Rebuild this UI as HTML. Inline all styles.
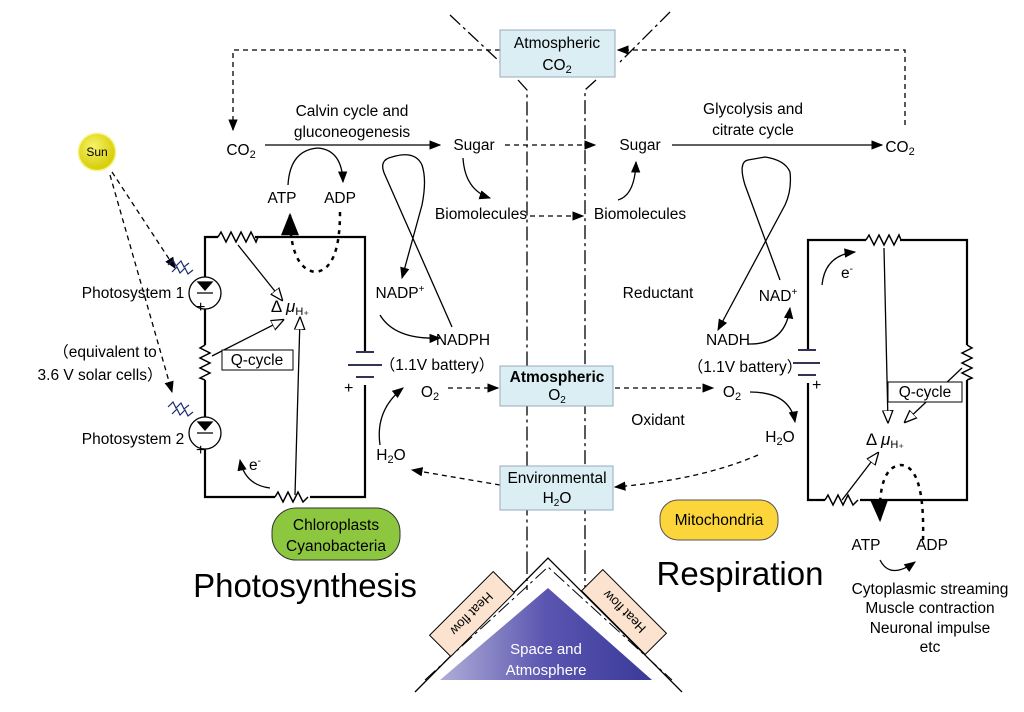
<!DOCTYPE html>
<html><head><meta charset="utf-8"><style>
body{margin:0;background:#fff;}
svg{display:block;font-family:"Liberation Sans",sans-serif;}
</style></head><body>
<svg width="1024" height="712" viewBox="0 0 1024 712" xmlns="http://www.w3.org/2000/svg">
<defs>
<marker id="a" viewBox="0 0 10 10" refX="9" refY="5" markerWidth="9" markerHeight="9" orient="auto"><path d="M0,1 L10,5 L0,9 z" fill="#000"/></marker>
<marker id="o" viewBox="0 0 10 10" refX="9" refY="5" markerWidth="10" markerHeight="10" orient="auto"><path d="M0,1 L10,5 L0,9 z" fill="#fff" stroke="#000"/></marker>
<radialGradient id="sun" cx="0.4" cy="0.35" r="0.7"><stop offset="0" stop-color="#f6f36a"/><stop offset="1" stop-color="#d4c800"/></radialGradient>
<linearGradient id="tri" x1="0" x2="1"><stop offset="0" stop-color="#b0aed8"/><stop offset="0.5" stop-color="#5a55b0"/><stop offset="1" stop-color="#3a3a9a"/></linearGradient>
</defs>
<g fill="none" stroke="#000" stroke-width="1.3">
<path d="M450,15 L500,62 M670,12 L620,62" stroke-dasharray="14,4,3,4"/>
<path d="M518,80 L527,90 L527,560 M596,80 L585,90 L585,560" stroke-dasharray="14,4,3,4"/>
<path d="M527,560 L527,590 M585,560 L585,590" stroke-dasharray="14,4,3,4"/>
<path d="M500,50 L233,50 L233,130" stroke-dasharray="5,4" marker-end="url(#a)"/>
<path d="M905,125 L905,50 L618,50" stroke-dasharray="5,4" marker-end="url(#a)"/>
<path d="M112,172 L175,268" stroke-dasharray="5,4" marker-end="url(#a)"/>
<path d="M110,175 L172,392" stroke-dasharray="5,4" marker-end="url(#a)"/>
<path d="M265,145 L440,145" marker-end="url(#a)"/>
<path d="M505,145 L595,145" stroke-dasharray="5,4" marker-end="url(#a)"/>
<path d="M672,145 L882,145" marker-end="url(#a)"/>
<path d="M530,216 L583,216" stroke-dasharray="5,4" marker-end="url(#a)"/>
<path d="M463,158 Q465,190 490,198" marker-end="url(#a)"/>
<path d="M618,200 Q635,195 636,162" marker-end="url(#a)"/>
<path d="M288,185 Q290,150 318,148 Q342,150 343,182" marker-end="url(#a)"/>
<path d="M340,212 Q340,270 315,272 Q290,268 290,215" stroke-dasharray="4,5" stroke-width="2.5" marker-end="url(#a)"/>
<path d="M218,237 L205,237 L205,277 M205,309 L205,345 M205,380 L205,417 M205,449 L205,497 L275,497 M310,497 L365,497 L365,385 M365,352 L365,237 L255,237" stroke-width="2.2"/>
<path d="M218,237 l3,-5 l5,10 l5,-10 l5,10 l5,-10 l5,10 l5,-10 l5,10 l2,-5" stroke-width="1.5"/>
<path d="M275,497 l3,-5 l5,10 l5,-10 l5,10 l5,-10 l5,10 l5,-5" stroke-width="1.5"/>
<path d="M205,345 l-5,3 l10,5 l-10,5 l10,5 l-10,5 l10,5 l-10,5 l5,2" stroke-width="1.5"/>
<circle cx="205" cy="293" r="16"/><circle cx="205" cy="433" r="16"/>
<path d="M198,422 L212,422 L205,430 z M197,433 L213,433" fill="#000"/>
<path d="M198,282 L212,282 L205,290 z M197,293 L213,293" fill="#000"/>
<path d="M356,352 L374,352 M348,365 L382,365 M356,377 L374,377" stroke="#335" stroke-width="2"/>
<path d="M238,245 L282,300" marker-end="url(#o)"/>
<path d="M212,356 L283,320" marker-end="url(#o)"/>
<path d="M295,495 L300,318" marker-end="url(#o)"/>
<path d="M270,488 Q245,485 240,460" marker-end="url(#a)"/>
<!-- NADP loop -->
<path d="M452,327 L385,175 Q378,160 392,157 Q415,150 422,165 Q427,180 422,205 L402,278" marker-end="url(#a)"/>
<path d="M380,315 Q395,340 440,338" marker-end="url(#a)"/>
<path d="M380,445 Q375,410 403,388" marker-end="url(#a)"/>
<path d="M448,388 L498,388" stroke-dasharray="5,4" marker-end="url(#a)"/>
<path d="M500,485 L412,470" stroke-dasharray="5,4" marker-end="url(#a)"/>
<path d="M615,388 L713,388" stroke-dasharray="5,4" marker-end="url(#a)"/>
<path d="M758,455 Q700,480 615,487" stroke-dasharray="5,4" marker-end="url(#a)"/>
<path d="M750,392 Q790,392 795,422" marker-end="url(#a)"/>
<!-- NAD loop -->
<path d="M780,280 L745,185 Q738,162 748,160 L765,157 Q785,160 790,172 Q792,190 785,205 L718,330" marker-end="url(#a)"/>
<path d="M748,344 Q785,345 790,308" marker-end="url(#a)"/>
<path d="M808,350 L808,240 L866,240 M900,240 L967,240 L967,345 M967,380 L967,500 L860,500 M825,500 L808,500 L808,383" stroke-width="2.2"/>
<path d="M866,240 l3,-5 l5,10 l5,-10 l5,10 l5,-10 l5,10 l5,-10 l2,5" stroke-width="1.5"/>
<path d="M825,500 l3,-5 l5,10 l5,-10 l5,10 l5,-10 l5,10 l5,-5" stroke-width="1.5"/>
<path d="M967,345 l5,3 l-10,5 l10,5 l-10,5 l10,5 l-10,5 l10,5 l-5,2" stroke-width="1.5"/>
<path d="M798,350 L816,350 M793,363 L820,363 M798,375 L816,375" stroke="#335" stroke-width="2"/>
<path d="M884,248 L888,422" marker-end="url(#o)"/>
<path d="M962,368 L905,422" marker-end="url(#o)"/>
<path d="M842,500 L878,453" marker-end="url(#o)"/>
<path d="M822,285 Q825,255 855,252" marker-end="url(#a)"/>
<path d="M923,540 Q925,465 900,465 Q878,468 880,520" stroke-dasharray="4,5" stroke-width="2.5" marker-end="url(#a)"/>
<path d="M880,560 Q890,580 915,562" marker-end="url(#a)"/>
</g>
<g fill="none" stroke="#1a2a6a" stroke-width="1.2">
<path d="M168,265 l5,-5 l3,6 l5,-5 l3,6 l5,-4 M172,272 l5,-5 l3,6 l5,-5 l3,6 l5,-4"/>
<path d="M168,407 l5,-5 l3,6 l5,-5 l3,6 l5,-4 M172,414 l5,-5 l3,6 l5,-5 l3,6 l5,-4"/>
</g>
<circle cx="97" cy="152" r="18" fill="url(#sun)" stroke="#e8e000" stroke-width="3" stroke-opacity="0.4"/>
<text x="97" y="156" font-size="12" text-anchor="middle">Sun</text>
<g stroke="#9ab" fill="#daeef3">
<rect x="500" y="30" width="115" height="47"/>
<rect x="500" y="366" width="113" height="40"/>
<rect x="500" y="466" width="113" height="44"/>
</g>
<rect x="222" y="350" width="71" height="20" fill="#fff" stroke="#000"/>
<rect x="888" y="382" width="74" height="20" fill="#fff" stroke="#000"/>
<rect x="272" y="508" width="128" height="52" rx="24" fill="#8dc63f" stroke="#333"/>
<rect x="660" y="500" width="118" height="40" rx="18" fill="#fcd53a" stroke="#555"/>
<path d="M440,680 L548,588 L652,680 z" fill="url(#tri)"/>
<path d="M415,692 L548,558 L682,692" fill="none" stroke="#000" stroke-width="1.3"/>
<path d="M425,680 L548,567 L672,680" fill="none" stroke="#000" stroke-width="1" stroke-dasharray="14,4,3,4"/>
<g transform="translate(472,614) rotate(-45)"><rect x="-45" y="-15" width="90" height="30" fill="#fbe3cf" stroke="#000"/><text x="0" y="5" font-size="13" text-anchor="middle" transform="rotate(180)">Heat flow</text></g>
<g transform="translate(624,612) rotate(45)"><rect x="-45" y="-15" width="90" height="30" fill="#fbe3cf" stroke="#000"/><text x="0" y="5" font-size="13" text-anchor="middle" transform="rotate(180)">Heat flow</text></g>
<g font-size="15" text-anchor="middle" fill="#fff"><text x="546" y="654">Space and</text><text x="546" y="675">Atmosphere</text></g>
<g font-size="15.5" text-anchor="middle">
<text x="557" y="48">Atmospheric</text><text x="557" y="70">CO<tspan font-size="11" dy="3">2</tspan></text>
<text x="557" y="382" font-weight="bold">Atmospheric</text><text x="557" y="400">O<tspan font-size="10" dy="3">2</tspan></text>
<text x="557" y="483">Environmental</text><text x="557" y="503">H<tspan font-size="10" dy="3">2</tspan><tspan dy="-3">O</tspan></text>
<text x="336" y="530">Chloroplasts</text><text x="336" y="551">Cyanobacteria</text>
<text x="719" y="525">Mitochondria</text>
<text x="352" y="116">Calvin cycle and</text><text x="352" y="137">gluconeogenesis</text>
<text x="753" y="114">Glycolysis and</text><text x="753" y="135">citrate cycle</text>
<text x="241" y="155">CO<tspan font-size="11" dy="3">2</tspan></text>
<text x="900" y="152">CO<tspan font-size="11" dy="3">2</tspan></text>
<text x="474" y="150">Sugar</text><text x="640" y="150">Sugar</text>
<text x="481" y="219">Biomolecules</text><text x="640" y="219">Biomolecules</text>
<text x="282" y="203">ATP</text><text x="340" y="203">ADP</text>
<text x="866" y="550">ATP</text><text x="932" y="550">ADP</text>
<text x="400" y="298">NADP<tspan font-size="10" dy="-6">+</tspan></text>
<text x="463" y="345">NADPH</text>
<text x="437" y="370">（1.1V battery）</text>
<text x="430" y="397">O<tspan font-size="11" dy="3">2</tspan></text>
<text x="391" y="460">H<tspan font-size="11" dy="3">2</tspan><tspan dy="-3">O</tspan></text>
<text x="658" y="298">Reductant</text><text x="658" y="425">Oxidant</text>
<text x="728" y="345">NADH</text>
<text x="778" y="301">NAD<tspan font-size="10" dy="-6">+</tspan></text>
<text x="745" y="372">（1.1V battery）</text>
<text x="732" y="397">O<tspan font-size="11" dy="3">2</tspan></text>
<text x="780" y="442">H<tspan font-size="11" dy="3">2</tspan><tspan dy="-3">O</tspan></text>
<text x="257" y="365">Q-cycle</text><text x="925" y="397">Q-cycle</text>
<text x="930" y="594">Cytoplasmic streaming</text><text x="930" y="613">Muscle contraction</text>
<text x="930" y="633">Neuronal impulse</text><text x="930" y="652">etc</text>
<text x="290" y="312" font-size="17">Δ <tspan font-style="italic">μ</tspan><tspan font-size="11" dy="3">H₊</tspan></text>
<text x="885" y="445" font-size="17">Δ <tspan font-style="italic">μ</tspan><tspan font-size="11" dy="3">H₊</tspan></text>
<text x="255" y="470">e<tspan font-size="10" dy="-6">-</tspan></text>
<text x="847" y="278">e<tspan font-size="10" dy="-6">-</tspan></text>
</g>
<g font-size="15.5" text-anchor="middle">
<text x="133" y="298">Photosystem 1</text><text x="133" y="444">Photosystem 2</text>
<text x="105" y="357">（equivalent to</text><text x="100" y="380">3.6 V solar cells）</text>
</g>
<g font-size="16"><text x="196" y="312">+</text><text x="196" y="455">+</text><text x="344" y="393">+</text><text x="812" y="390">+</text></g>
<text x="305" y="597" font-size="33" text-anchor="middle">Photosynthesis</text>
<text x="740" y="585" font-size="33" text-anchor="middle">Respiration</text>
</svg>
</body></html>
